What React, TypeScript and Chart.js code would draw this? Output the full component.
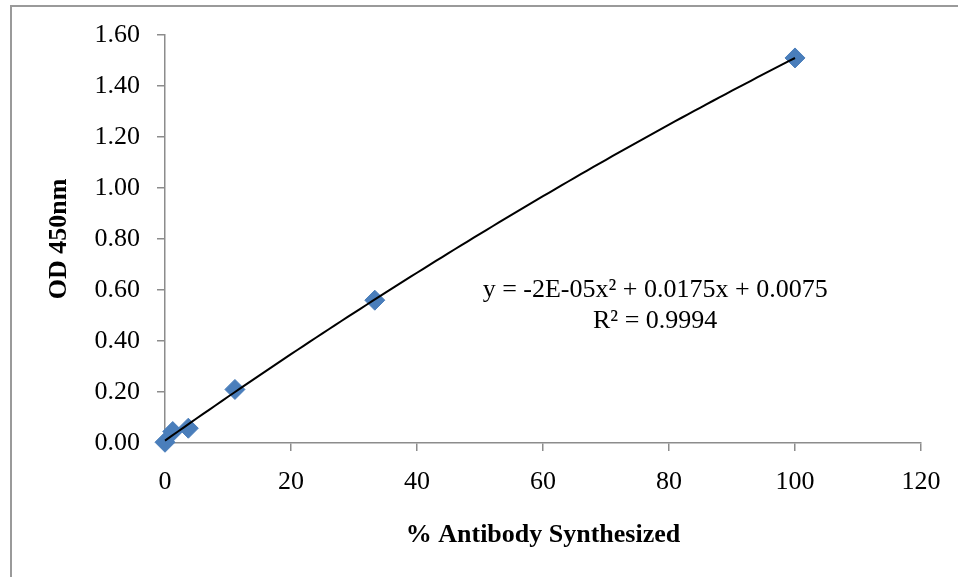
import React, { useEffect, useRef } from "react";
import { Chart, registerables } from "chart.js";

Chart.register(...registerables);

// Data
const antibodyPercent = [0, 1.23, 3.7, 11.1, 33.3, 100];
const odValues = [0.003, 0.045, 0.058, 0.21, 0.56, 1.51];
const xTickMax = 120;
const yTickMax = 1.6;
const equationText = "y = -2E-05x\u00B2 + 0.0175x + 0.0075";
const r2Text = "R\u00B2 = 0.9994";
const xTitle = "% Antibody Synthesized";
const yTitle = "OD 450nm";

// quadratic least-squares fit (what the spreadsheet trendline is)
function quadFit(xs: number[], ys: number[]) {
  let s0 = 0, s1 = 0, s2 = 0, s3 = 0, s4 = 0, t0 = 0, t1 = 0, t2 = 0;
  for (let i = 0; i < xs.length; i++) {
    const x = xs[i], y = ys[i];
    s0 += 1; s1 += x; s2 += x * x; s3 += x * x * x; s4 += x * x * x * x;
    t0 += y; t1 += x * y; t2 += x * x * y;
  }
  const M = [
    [s4, s3, s2, t2],
    [s3, s2, s1, t1],
    [s2, s1, s0, t0],
  ];
  for (let c = 0; c < 3; c++) {
    let p = c;
    for (let r = c + 1; r < 3; r++) if (Math.abs(M[r][c]) > Math.abs(M[p][c])) p = r;
    [M[c], M[p]] = [M[p], M[c]];
    for (let r = 0; r < 3; r++) {
      if (r === c) continue;
      const f = M[r][c] / M[c][c];
      for (let k = c; k < 4; k++) M[r][k] -= f * M[c][k];
    }
  }
  return [M[0][3] / M[0][0], M[1][3] / M[1][1], M[2][3] / M[2][2]];
}

export default function App() {
  const ref = useRef<HTMLCanvasElement | null>(null);

  useEffect(() => {
    if (!ref.current) return;
    const [a, b, c] = quadFit(antibodyPercent, odValues);
    const xMaxData = Math.max(...antibodyPercent);
    const trend: { x: number; y: number }[] = [];
    const n = 100;
    for (let i = 0; i <= n; i++) {
      const x = (xMaxData * i) / n;
      trend.push({ x, y: a * x * x + b * x + c });
    }

    const framePlugin = {
      id: "frame",
      beforeDraw(chart: any) {
        const ctx = chart.ctx;
        ctx.save();
        ctx.fillStyle = "#ffffff";
        ctx.fillRect(0, 0, chart.width, chart.height);
        ctx.strokeStyle = "#9a9a9a";
        ctx.lineWidth = 2;
        ctx.beginPath();
        ctx.moveTo(11, chart.height + 5);
        ctx.lineTo(11, 6);
        ctx.lineTo(chart.width + 5, 6);
        ctx.stroke();
        ctx.restore();
      },
      afterDraw(chart: any) {
        const ctx = chart.ctx;
        const xs = chart.scales.x;
        const ys = chart.scales.y;
        const cx = xs.getPixelForValue(77.8);
        const cy = ys.getPixelForValue(0.6);
        ctx.save();
        ctx.fillStyle = "#000000";
        ctx.font = "26px 'Liberation Serif', 'Times New Roman', serif";
        ctx.textAlign = "center";
        ctx.textBaseline = "middle";
        ctx.fillText(equationText, cx, cy);
        ctx.fillText(r2Text, cx, cy + 31);
        ctx.restore();
      },
    };

    const tickFont = { family: "'Liberation Serif', 'Times New Roman', serif", size: 26 };
    const titleFont = { family: "'Liberation Serif', 'Times New Roman', serif", size: 26, weight: "bold" as const };

    const chart = new Chart(ref.current, {
      type: "scatter",
      data: {
        datasets: [
          {
            type: "line",
            label: "Trend",
            data: trend,
            borderColor: "#000000",
            borderWidth: 2,
            pointRadius: 0,
            fill: false,
            tension: 0,
            order: 0,
            clip: false,
          } as any,
          {
            label: "OD",
            data: antibodyPercent.map((x, i) => ({ x, y: odValues[i] })),
            pointStyle: "rectRot",
            pointRadius: 10,
            pointBackgroundColor: "#4a7ebb",
            pointBorderColor: "#4a7ebb",
            pointBorderWidth: 1,
            order: 1,
            clip: false,
          } as any,
        ],
      },
      options: {
        responsive: false,
        animation: false,
        layout: { padding: { left: 0, top: 35, right: 37, bottom: 0 } },
        plugins: {
          legend: { display: false },
          tooltip: { enabled: false },
        },
        scales: {
          x: {
            type: "linear",
            min: 0,
            max: xTickMax,
            ticks: { stepSize: 20, color: "#000", font: tickFont, padding: 16, maxRotation: 0 },
            grid: { display: true, drawOnChartArea: false, drawTicks: true, tickLength: 8, color: "#8c8c8c", lineWidth: 1.5 },
            border: { display: true, color: "#8c8c8c", width: 1.5 },
            title: { display: true, text: xTitle, color: "#000", font: titleFont, padding: { top: 0, bottom: 26 } },
            afterFit(scale: any) {
              scale.height = 134;
            },
          },
          y: {
            type: "linear",
            min: 0,
            max: yTickMax,
            ticks: {
              stepSize: 0.2,
              color: "#000",
              font: tickFont,
              padding: 17,
              callback: (v: any) => Number(v).toFixed(2),
            },
            grid: { display: true, drawOnChartArea: false, drawTicks: true, tickLength: 8, color: "#8c8c8c", lineWidth: 1.5 },
            border: { display: true, color: "#8c8c8c", width: 1.5 },
            title: { display: true, text: yTitle, color: "#000", font: titleFont, padding: { top: 44, bottom: 0 } },
            afterFit(scale: any) {
              scale.width = 165;
            },
          },
        },
      },
      plugins: [framePlugin],
    });
    return () => chart.destroy();
  }, []);

  return (
    <div style={{ position: "fixed", left: 0, top: 0, width: 958, height: 577, background: "#fff" }}>
      <canvas ref={ref} width={958} height={577} style={{ width: 958, height: 577, display: "block" }} />
    </div>
  );
}
